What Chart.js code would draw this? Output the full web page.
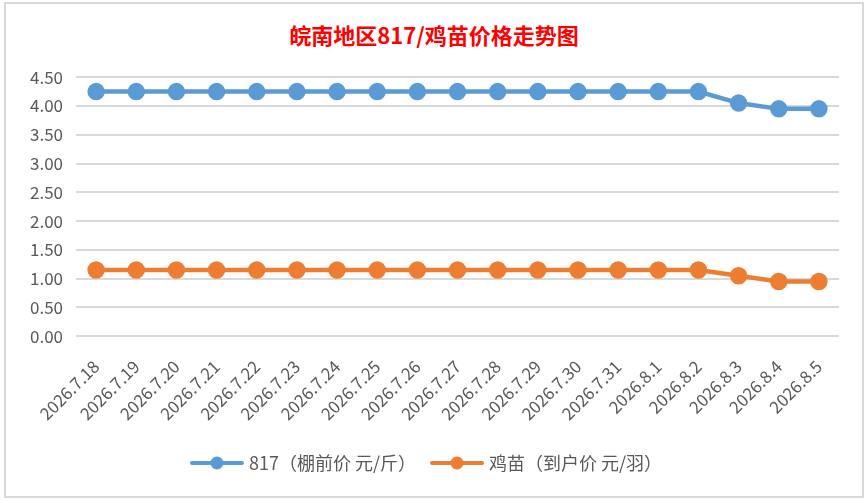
<!DOCTYPE html>
<html>
<head>
<meta charset="utf-8">
<script src="https://cdn.jsdelivr.net/npm/chart.js@4"></script>
<style>
  html, body { margin: 0; padding: 0; background: #fff; }
  body { width: 867px; height: 500px; position: relative; overflow: hidden; }
  #box {
    position: absolute; left: 4px; top: 2px; width: 856px; height: 492px;
    border: 2px solid #d9d9d9; background: #fff;
  }
  #title {
    position: absolute; left: 0; right: 0; top: 14px; text-align: center;
    font-family: "Noto Sans CJK SC", sans-serif; font-weight: bold; font-size: 22px; color: #ff0000;
  }
  #wrap { position: absolute; left: 0; top: 50px; width: 856px; height: 442px; }
</style>
</head>
<body>
<div id="box">
  <div id="title">皖南地区817/鸡苗价格走势图</div>
  <div id="wrap"><canvas id="priceChart"></canvas></div>
</div>
<script>
// 日期
const dates = ['2026.7.18', '2026.7.19', '2026.7.20', '2026.7.21', '2026.7.22', '2026.7.23',
  '2026.7.24', '2026.7.25', '2026.7.26', '2026.7.27', '2026.7.28', '2026.7.29', '2026.7.30',
  '2026.7.31', '2026.8.1', '2026.8.2', '2026.8.3', '2026.8.4', '2026.8.5'];
// 817 棚前价
const price817 = [4.25, 4.25, 4.25, 4.25, 4.25, 4.25, 4.25, 4.25, 4.25, 4.25, 4.25, 4.25, 4.25,
  4.25, 4.25, 4.25, 4.05, 3.95, 3.95];
// 鸡苗 到户价
const priceChick = [1.15, 1.15, 1.15, 1.15, 1.15, 1.15, 1.15, 1.15, 1.15, 1.15, 1.15, 1.15, 1.15,
  1.15, 1.15, 1.15, 1.05, 0.95, 0.95];
const seriesNames = ['817（棚前价 元/斤）', '鸡苗（到户价 元/羽）'];
const yTicks = [0, 0.5, 1, 1.5, 2, 2.5, 3, 3.5, 4, 4.5];

const blue = '#5b9bd5';
const orange = '#ed7d31';

// legend marker: line with a dot (a bit wider than the legend box so the text sits close)
function legendMark(color) {
  const c = document.createElement('canvas');
  c.width = 56; c.height = 14;
  const g = c.getContext('2d');
  g.strokeStyle = color; g.lineWidth = 4; g.lineCap = 'round';
  g.beginPath(); g.moveTo(3, 7); g.lineTo(53, 7); g.stroke();
  g.fillStyle = color;
  g.beginPath(); g.arc(28, 7, 6.5, 0, Math.PI * 2); g.fill();
  return c;
}
const marks = [legendMark(blue), legendMark(orange)];

const fontFam = '"Noto Sans CJK SC", "DejaVu Sans", sans-serif';

new Chart(document.getElementById('priceChart'), {
  type: 'line',
  data: {
    labels: dates,
    datasets: [
      { label: seriesNames[0], data: price817, borderColor: blue, backgroundColor: blue,
        borderWidth: 4.5, pointRadius: 6.5, pointHoverRadius: 6.5, tension: 0 },
      { label: seriesNames[1], data: priceChick, borderColor: orange, backgroundColor: orange,
        borderWidth: 4.5, pointRadius: 6.5, pointHoverRadius: 6.5, tension: 0 }
    ]
  },
  options: {
    responsive: true,
    maintainAspectRatio: false,
    animation: false,
    layout: { padding: { left: 11, right: 23, top: 0, bottom: 14 } },
    scales: {
      x: {
        offset: true,
        grid: { display: false },
        border: { display: false },
        ticks: { color: '#595959', padding: 12, font: { family: fontFam, size: 17 },
          maxRotation: 45, minRotation: 45, autoSkip: false }
      },
      y: {
        min: 0, max: 4.5,
        afterBuildTicks: axis => { axis.ticks = yTicks.map(v => ({ value: v })); },
        grid: { color: '#d9d9d9', lineWidth: 2, drawTicks: false },
        border: { display: false },
        ticks: { color: '#595959', padding: 13, font: { family: fontFam, size: 17 },
          callback: v => Number(v).toFixed(2) }
      }
    },
    plugins: {
      legend: {
        position: 'bottom',
        labels: {
          color: '#595959',
          font: { family: fontFam, size: 18 },
          usePointStyle: true,
          pointStyleWidth: 46,
          padding: 18,
          generateLabels: chart => chart.data.datasets.map((ds, i) => ({
            text: ds.label, pointStyle: marks[i], datasetIndex: i,
            fillStyle: ds.borderColor, strokeStyle: ds.borderColor, lineWidth: 0, fontColor: '#595959'
          }))
        }
      },
      tooltip: { enabled: false }
    }
  }
});
</script>
</body>
</html>
